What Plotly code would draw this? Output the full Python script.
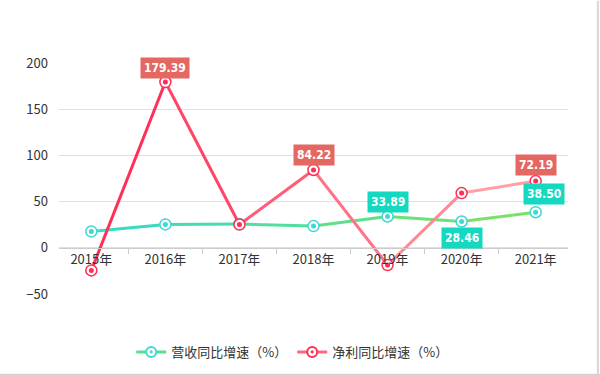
import plotly.graph_objects as go

years = ["2015年", "2016年", "2017年", "2018年", "2019年", "2020年", "2021年"]
revenue_growth = [17.7, 25.3, 25.8, 23.5, 33.89, 28.46, 38.50]
profit_growth = [-24.5, 179.39, 25.2, 84.22, -18.7, 59.2, 72.19]
rev_name = "营收同比增速（%）"
pro_name = "净利同比增速（%）"

rev_labels = {4: ("33.89", 14, 0), 5: ("28.46", -16, 0), 6: ("38.50", 18, 8)}
pro_labels = {1: ("179.39", 14, 0), 3: ("84.22", 15, 0), 6: ("72.19", 16, 0)}

rev_c0, rev_c1 = (48, 220, 204), (128, 225, 96)
pro_c0, pro_c1 = (255, 36, 80), (255, 172, 172)
rev_marker = "#3fd8d2"
pro_marker = "#ff2d55"
rev_bg = "#14d8bf"
pro_bg = "#e46762"
FONT = "Noto Sans CJK SC, Microsoft YaHei, sans-serif"
NARROW = "DejaVu Sans Condensed, Liberation Sans Narrow, sans-serif"


def mix(c0, c1, t):
    return "rgb(%d,%d,%d)" % tuple(round(a + (b - a) * t) for a, b in zip(c0, c1))


fig = go.Figure()
n = len(years)


def add_series(vals, c0, c1, mcolor, name):
    for i in range(n - 1):
        t = (i + 0.5) / (n - 1)
        fig.add_trace(go.Scatter(x=years[i:i + 2], y=vals[i:i + 2], mode="lines",
                                 line=dict(color=mix(c0, c1, t), width=3),
                                 showlegend=False, hoverinfo="skip"))
    fig.add_trace(go.Scatter(x=years, y=vals, mode="markers",
                             marker=dict(symbol="circle", size=11, color="white",
                                         line=dict(color=mcolor, width=1.5)),
                             showlegend=False, name=name))
    fig.add_trace(go.Scatter(x=years, y=vals, mode="markers",
                             marker=dict(symbol="circle", size=5, color=mcolor),
                             showlegend=False, hoverinfo="skip"))
    fig.add_trace(go.Scatter(x=[None], y=[None], mode="lines+markers", name=name,
                             line=dict(color=mix(c0, c1, 0.5), width=3),
                             marker=dict(symbol="circle-dot", size=10, color="white",
                                         line=dict(color=mcolor, width=2))))


add_series(revenue_growth, rev_c0, rev_c1, rev_marker, rev_name)
add_series(profit_growth, pro_c0, pro_c1, pro_marker, pro_name)

anns = []
for labels, vals, bg in ((pro_labels, profit_growth, pro_bg), (rev_labels, revenue_growth, rev_bg)):
    for i, (txt, ys, xs) in labels.items():
        anns.append(dict(x=years[i], y=vals[i], text="<b>%s</b>" % txt, showarrow=False,
                         yshift=ys, xshift=xs, bgcolor=bg, borderpad=3,
                         font=dict(family=NARROW, size=12, color="white")))

fig.update_layout(
    width=600, height=376,
    margin=dict(l=59, r=32, t=63, b=82),
    paper_bgcolor="white", plot_bgcolor="white",
    font=dict(family=FONT, size=13, color="#333333"),
    annotations=anns,
    legend=dict(orientation="h", xref="container", yref="container", x=0.487, y=0.064,
                xanchor="center", yanchor="middle", font=dict(size=13, color="#333333"),
                itemwidth=30, tracegroupgap=0),
    shapes=[
        dict(type="line", xref="paper", yref="paper", x0=1.0588, x1=1.0588, y0=-0.36, y1=1.27,
             line=dict(color="#d8d8d8", width=2)),
        dict(type="line", xref="paper", yref="paper", x0=-0.12, x1=1.07, y0=-0.352, y1=-0.352,
             line=dict(color="#d0d3d8", width=3)),
    ],
)
fig.update_xaxes(type="category", anchor="free", position=0.2, showline=True,
                 linecolor="#cccccc", linewidth=1, ticks="outside", tickson="boundaries",
                 ticklen=5, tickcolor="#cccccc", showgrid=False, zeroline=False,
                 tickfont=dict(size=13, color="#333333"), fixedrange=True)
fig.update_yaxes(range=[-50, 200], dtick=50, showgrid=True, gridcolor="#e0e0e0",
                 zeroline=False, showline=False, ticks="", ticklabelstandoff=10,
                 tickfont=dict(size=13, color="#333333"), fixedrange=True)

fig.write_html("out.html")
